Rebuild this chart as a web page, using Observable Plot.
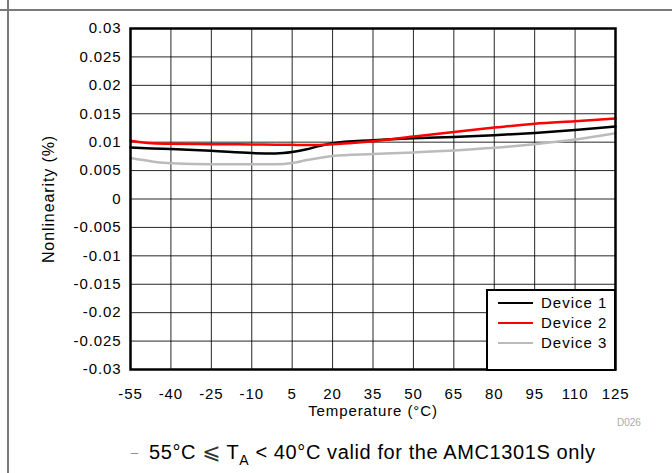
<!DOCTYPE html>
<html>
<head>
<meta charset="utf-8">
<script src="https://cdn.jsdelivr.net/npm/d3@7"></script>
<script src="https://cdn.jsdelivr.net/npm/@observablehq/plot@0.6"></script>
<style>
  html, body { margin: 0; padding: 0; background: #fff; }
  #wrap { position: relative; width: 672px; height: 473px; overflow: hidden; font-family: "Liberation Sans", Arial, sans-serif; }
  #chart svg { display: block; }
  .hline { position: absolute; left: 0; top: 9px; width: 672px; height: 0; border-top: 2px solid #7a7a7a; }
  .vline { position: absolute; left: 7px; top: 0; width: 0; height: 473px; border-left: 2px solid #7a7a7a; }
  #legend { position: absolute; left: 486px; top: 289px; width: 126px; height: 78px; border: 2.5px solid #000; background: #fff; box-sizing: content-box; }
  .li { position: absolute; left: 10px; font-size: 15px; letter-spacing: 1px; color: #000; white-space: nowrap; }
  .li span.sw { display: inline-block; width: 35px; height: 0; border-top: 2.5px solid; vertical-align: middle; margin-right: 8px; position: relative; top: -1px; }
  #code { position: absolute; left: 617px; top: 417px; font-size: 10px; color: #aaa; }
  #caption { position: absolute; left: 131px; top: 439px; font-size: 20px; letter-spacing: 0.6px; color: #000; white-space: nowrap; }
  #caption .dash { color: #888; font-size: 13px; position: relative; top: -2px; margin-right: 4px; }
</style>
</head>
<body>
<div id="wrap">
  <div id="chart"></div>
  <div class="hline"></div>
  <div class="vline"></div>
  <div id="legend"></div>
  <div id="code">D026</div>
  <div id="caption"><span class="dash">–</span> 55°C <span style="font-family:'DejaVu Sans';font-size:22px;color:#333;letter-spacing:0">⩽</span> T<sub style="font-size:14px;vertical-align:-6px;line-height:0">A</sub> &lt; 40°C valid for the AMC1301S only</div>
</div>
<script>
const temps = [-55, -47, -40, -25, -10, -1, 5, 10, 15, 20, 35, 50, 65, 80, 95, 110, 125];
const device1 = [0.00906, 0.0089, 0.00878, 0.00848, 0.00808, 0.0080, 0.00825, 0.0087, 0.0093, 0.00983, 0.01035, 0.0107, 0.01093, 0.01122, 0.01163, 0.01215, 0.01274];
const device2 = [0.01025, 0.0098, 0.0097, 0.00965, 0.0096, 0.00955, 0.00953, 0.0095, 0.0095, 0.00962, 0.01018, 0.011, 0.0118, 0.01256, 0.01326, 0.0137, 0.01415];
const device3 = [0.0072, 0.0066, 0.00628, 0.0061, 0.0061, 0.0061, 0.00633, 0.0068, 0.0072, 0.00755, 0.0079, 0.0082, 0.00854, 0.009, 0.00965, 0.01046, 0.01158];
const seriesNames = ["Device 1", "Device 2", "Device 3"];
const seriesColors = ["#000000", "#ff0000", "#bbbbbb"];
const xTicks = [-55, -40, -25, -10, 5, 20, 35, 50, 65, 80, 95, 110, 125];
const xTickLabels = ["-55", "-40", "-25", "-10", "5", "20", "35", "50", "65", "80", "95", "110", "125"];
const yTicks = [-0.03, -0.025, -0.02, -0.015, -0.01, -0.005, 0, 0.005, 0.01, 0.015, 0.02, 0.025, 0.03];
const yTickLabels = ["-0.03", "-0.025", "-0.02", "-0.015", "-0.01", "-0.005", "0", "0.005", "0.01", "0.015", "0.02", "0.025", "0.03"];

const allSeries = [device1, device2, device3];
const rows = [];
allSeries.forEach((vals, i) => vals.forEach((v, j) => rows.push({ t: temps[j], v, s: seriesNames[i] })));

const fmtX = d => xTickLabels[xTicks.indexOf(d)];
const fmtY = d => yTickLabels[yTicks.findIndex(t => Math.abs(t - d) < 1e-9)];

const chart = Plot.plot({
  width: 672,
  height: 430,
  marginLeft: 130,
  marginRight: 57,
  marginTop: 28,
  marginBottom: 61,
  style: { fontFamily: "Liberation Sans, Arial, sans-serif", fontSize: "15px", letterSpacing: "0.9px", color: "#000", background: "#fff" },
  x: { domain: [-55, 125], label: null },
  y: { domain: [-0.03, 0.03], label: null },
  color: { domain: seriesNames, range: seriesColors },
  marks: [
    Plot.gridX(xTicks, { stroke: "#000", strokeOpacity: 0.85, strokeWidth: 1 }),
    Plot.gridY(yTicks, { stroke: "#000", strokeOpacity: 0.85, strokeWidth: 1 }),
    Plot.line(rows, { x: "t", y: "v", z: "s", stroke: "s", strokeWidth: 2.5, curve: "monotone-x" }),
    Plot.frame({ stroke: "#000", strokeWidth: 2.5 }),
    Plot.axisX(xTicks, { tickSize: 0, tickPadding: 19, fontSize: 15, label: null, tickFormat: fmtX }),
    Plot.axisY(yTicks, { tickSize: 0, tickPadding: 9, fontSize: 15, label: null, tickFormat: fmtY }),
    Plot.text(["Temperature (°C)"], { frameAnchor: "bottom", dy: 46, fontSize: 15, text: d => d }),
    Plot.text(["Nonlinearity (%)"], { frameAnchor: "left", dx: -82, rotate: -90, textAnchor: "middle", fontSize: 16, text: d => d })
  ]
});
document.getElementById("chart").appendChild(chart);

const legend = document.getElementById("legend");
seriesNames.forEach((name, i) => {
  const d = document.createElement("div");
  d.className = "li";
  d.style.top = (3 + i * 20) + "px";
  d.innerHTML = `<span class="sw" style="border-color:${seriesColors[i]}"></span>${name}`;
  legend.appendChild(d);
});
</script>
</body>
</html>
